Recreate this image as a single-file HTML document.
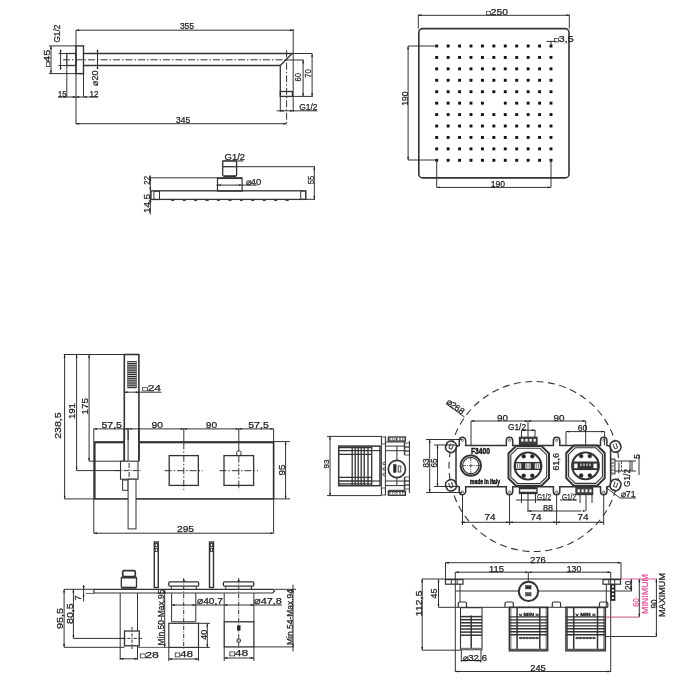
<!DOCTYPE html>
<html><head><meta charset="utf-8"><style>
html,body{margin:0;padding:0;background:#fff;width:700px;height:700px;overflow:hidden}
svg{display:block;will-change:transform}
text{font-family:"Liberation Sans",sans-serif;fill:#222;stroke:#222;stroke-width:0.25}
</style></head><body>
<svg width="700" height="700" viewBox="0 0 700 700">
<g stroke="#333" stroke-width="1" fill="none">
<line x1="76" y1="30.2" x2="293.2" y2="30.2"/>
<line x1="76" y1="30.2" x2="76" y2="124.3"/>
<line x1="293.2" y1="29" x2="293.2" y2="112"/>
<rect x="76" y="45.9" width="7.5" height="27.7" stroke-width="1.4"/>
<rect x="66.8" y="53.5" width="9.2" height="12" stroke-width="1.3"/>
<line x1="83.5" y1="53.5" x2="292.5" y2="53.5" stroke-width="1.3"/>
<line x1="292.5" y1="53.5" x2="312.1" y2="53.5"/>
<line x1="83.5" y1="65.5" x2="280.3" y2="65.5" stroke-width="1.3"/>
<line x1="280.3" y1="65.5" x2="292.2" y2="53.5" stroke-width="1.3"/>
<line x1="280.3" y1="65.5" x2="280.3" y2="96.4" stroke-width="1.3"/>
<line x1="280.3" y1="96.4" x2="280.3" y2="112"/>
<rect x="280.3" y="91.5" width="12.1" height="4.9" stroke-width="1.3"/>
<line x1="63" y1="59.8" x2="286.6" y2="59.8" stroke-dasharray="7 2 1.5 2"/>
<line x1="286.6" y1="60" x2="303.8" y2="60"/>
<line x1="286.6" y1="50.3" x2="286.6" y2="125.6" stroke-dasharray="7 2 1.5 2"/>
<line x1="51" y1="45.9" x2="51" y2="73.6"/>
<line x1="49" y1="45.9" x2="76" y2="45.9"/>
<line x1="49" y1="73.6" x2="83.5" y2="73.6"/>
<line x1="60.6" y1="49.7" x2="60.6" y2="69.7"/>
<line x1="58.5" y1="53.5" x2="66.8" y2="53.5"/>
<line x1="58.5" y1="65.5" x2="66.8" y2="65.5"/>
<line x1="97.5" y1="49.7" x2="97.5" y2="69"/>
<line x1="66.8" y1="65.5" x2="66.8" y2="97"/>
<line x1="83.5" y1="73.6" x2="83.5" y2="97"/>
<line x1="58" y1="97" x2="98" y2="97"/>
<line x1="303.1" y1="60" x2="303.1" y2="96.4"/>
<line x1="312.1" y1="53.5" x2="312.1" y2="96.4"/>
<line x1="293.2" y1="96.4" x2="312.8" y2="96.4"/>
<line x1="276.7" y1="110.8" x2="317.3" y2="110.8"/>
<line x1="76" y1="123.7" x2="286.6" y2="123.7"/>
<text font-size="9.2" text-anchor="middle" textLength="14.2" lengthAdjust="spacingAndGlyphs" x="187" y="28.91">355</text>
<text font-size="9.2" text-anchor="middle" textLength="14" lengthAdjust="spacingAndGlyphs" x="183.1" y="122.91">345</text>
<text font-size="9.2" text-anchor="middle" textLength="17" lengthAdjust="spacingAndGlyphs" transform="translate(47 58.1) rotate(-90)" x="0" y="3.31"><tspan style="font-size:0.7em">□</tspan>45</text>
<text font-size="9.2" text-anchor="middle" textLength="18" lengthAdjust="spacingAndGlyphs" transform="translate(56.5 33.6) rotate(-90)" x="0" y="3.31">G1/2</text>
<text font-size="9.2" text-anchor="middle" textLength="15" lengthAdjust="spacingAndGlyphs" transform="translate(95 78) rotate(-90)" x="0" y="3.31">⌀20</text>
<text font-size="9.2" text-anchor="middle" textLength="8.4" lengthAdjust="spacingAndGlyphs" x="62.2" y="96.91">15</text>
<text font-size="9.2" text-anchor="middle" textLength="9" lengthAdjust="spacingAndGlyphs" x="94" y="96.91">12</text>
<text font-size="9.2" text-anchor="middle" textLength="8.5" lengthAdjust="spacingAndGlyphs" transform="translate(297.3 77.3) rotate(-90)" x="0" y="3.31">60</text>
<text font-size="9.2" text-anchor="middle" textLength="8.5" lengthAdjust="spacingAndGlyphs" transform="translate(307.6 73.5) rotate(-90)" x="0" y="3.31">70</text>
<text font-size="9.2" text-anchor="middle" textLength="18.3" lengthAdjust="spacingAndGlyphs" x="308.3" y="110.11">G1/2</text>
<line x1="150.3" y1="175.2" x2="150.3" y2="214.4"/>
<line x1="150.3" y1="177.8" x2="217.8" y2="177.8"/>
<rect x="217.5" y="177.9" width="24.6" height="13.2" stroke-width="1.2"/>
<line x1="217.5" y1="178.3" x2="242.1" y2="178.3" stroke-width="1.5"/>
<line x1="216.4" y1="185.1" x2="256.7" y2="185.1"/>
<rect x="151" y="190.8" width="154.7" height="8.6" stroke-width="1.3"/>
<rect x="153.9" y="191.3" width="5.6" height="8.3"/>
<rect x="300.7" y="191" width="5" height="8.3"/>
<rect x="222.7" y="160.9" width="13.9" height="15.3" stroke-width="1.3" rx="1.5"/>
<line x1="222.7" y1="166.7" x2="236.6" y2="166.7" stroke-width="1.3"/>
<line x1="223.5" y1="176.3" x2="236" y2="176.3" stroke-width="1.8"/>
<line x1="222" y1="161" x2="243" y2="161"/>
<line x1="236.4" y1="166.7" x2="315" y2="166.7"/>
<line x1="305.7" y1="199.3" x2="315" y2="199.3"/>
<line x1="314.3" y1="166.4" x2="314.3" y2="200"/>
<rect x="171.60000000000002" y="199.6" width="2.4" height="1.2" stroke-width="0.5" fill="#333"/>
<rect x="183.03000000000003" y="199.6" width="2.4" height="1.2" stroke-width="0.5" fill="#333"/>
<rect x="194.46000000000004" y="199.6" width="2.4" height="1.2" stroke-width="0.5" fill="#333"/>
<rect x="205.89000000000001" y="199.6" width="2.4" height="1.2" stroke-width="0.5" fill="#333"/>
<rect x="217.32000000000002" y="199.6" width="2.4" height="1.2" stroke-width="0.5" fill="#333"/>
<rect x="228.75000000000003" y="199.6" width="2.4" height="1.2" stroke-width="0.5" fill="#333"/>
<rect x="240.18" y="199.6" width="2.4" height="1.2" stroke-width="0.5" fill="#333"/>
<rect x="251.61" y="199.6" width="2.4" height="1.2" stroke-width="0.5" fill="#333"/>
<rect x="263.04" y="199.6" width="2.4" height="1.2" stroke-width="0.5" fill="#333"/>
<rect x="274.47" y="199.6" width="2.4" height="1.2" stroke-width="0.5" fill="#333"/>
<rect x="285.90000000000003" y="199.6" width="2.4" height="1.2" stroke-width="0.5" fill="#333"/>
<text font-size="9.2" text-anchor="middle" textLength="20.5" lengthAdjust="spacingAndGlyphs" x="234.8" y="160.41">G1/2</text>
<text font-size="9.2" text-anchor="middle" textLength="15.7" lengthAdjust="spacingAndGlyphs" x="253.5" y="185.11">⌀40</text>
<text font-size="9.2" text-anchor="middle" textLength="8.7" lengthAdjust="spacingAndGlyphs" transform="translate(310.7 180) rotate(-90)" x="0" y="3.31">55</text>
<text font-size="9.2" text-anchor="middle" textLength="8.7" lengthAdjust="spacingAndGlyphs" transform="translate(146.4 180.3) rotate(-90)" x="0" y="3.31">22</text>
<text font-size="9.2" text-anchor="middle" textLength="19" lengthAdjust="spacingAndGlyphs" transform="translate(146.4 203.5) rotate(-90)" x="0" y="3.31">14,5</text>
<rect x="418.8" y="28.6" width="150.2" height="149.3" stroke-width="1.6" rx="4"/>
<line x1="418.3" y1="14.3" x2="418.3" y2="28.6"/>
<line x1="569.3" y1="14.3" x2="569.3" y2="28.6"/>
<line x1="418.3" y1="15.3" x2="569.3" y2="15.3"/>
<rect x="435.25" y="44.55" width="2.9" height="2.9" fill="#111" stroke="none"/>
<rect x="435.25" y="55.98" width="2.9" height="2.9" fill="#111" stroke="none"/>
<rect x="435.25" y="67.41" width="2.9" height="2.9" fill="#111" stroke="none"/>
<rect x="435.25" y="78.84" width="2.9" height="2.9" fill="#111" stroke="none"/>
<rect x="435.25" y="90.27" width="2.9" height="2.9" fill="#111" stroke="none"/>
<rect x="435.25" y="101.70" width="2.9" height="2.9" fill="#111" stroke="none"/>
<rect x="435.25" y="113.13" width="2.9" height="2.9" fill="#111" stroke="none"/>
<rect x="435.25" y="124.56" width="2.9" height="2.9" fill="#111" stroke="none"/>
<rect x="435.25" y="135.99" width="2.9" height="2.9" fill="#111" stroke="none"/>
<rect x="435.25" y="147.42" width="2.9" height="2.9" fill="#111" stroke="none"/>
<rect x="435.25" y="158.85" width="2.9" height="2.9" fill="#111" stroke="none"/>
<rect x="446.68" y="44.55" width="2.9" height="2.9" fill="#111" stroke="none"/>
<rect x="446.68" y="55.98" width="2.9" height="2.9" fill="#111" stroke="none"/>
<rect x="446.68" y="67.41" width="2.9" height="2.9" fill="#111" stroke="none"/>
<rect x="446.68" y="78.84" width="2.9" height="2.9" fill="#111" stroke="none"/>
<rect x="446.68" y="90.27" width="2.9" height="2.9" fill="#111" stroke="none"/>
<rect x="446.68" y="101.70" width="2.9" height="2.9" fill="#111" stroke="none"/>
<rect x="446.68" y="113.13" width="2.9" height="2.9" fill="#111" stroke="none"/>
<rect x="446.68" y="124.56" width="2.9" height="2.9" fill="#111" stroke="none"/>
<rect x="446.68" y="135.99" width="2.9" height="2.9" fill="#111" stroke="none"/>
<rect x="446.68" y="147.42" width="2.9" height="2.9" fill="#111" stroke="none"/>
<rect x="446.68" y="158.85" width="2.9" height="2.9" fill="#111" stroke="none"/>
<rect x="458.11" y="44.55" width="2.9" height="2.9" fill="#111" stroke="none"/>
<rect x="458.11" y="55.98" width="2.9" height="2.9" fill="#111" stroke="none"/>
<rect x="458.11" y="67.41" width="2.9" height="2.9" fill="#111" stroke="none"/>
<rect x="458.11" y="78.84" width="2.9" height="2.9" fill="#111" stroke="none"/>
<rect x="458.11" y="90.27" width="2.9" height="2.9" fill="#111" stroke="none"/>
<rect x="458.11" y="101.70" width="2.9" height="2.9" fill="#111" stroke="none"/>
<rect x="458.11" y="113.13" width="2.9" height="2.9" fill="#111" stroke="none"/>
<rect x="458.11" y="124.56" width="2.9" height="2.9" fill="#111" stroke="none"/>
<rect x="458.11" y="135.99" width="2.9" height="2.9" fill="#111" stroke="none"/>
<rect x="458.11" y="147.42" width="2.9" height="2.9" fill="#111" stroke="none"/>
<rect x="458.11" y="158.85" width="2.9" height="2.9" fill="#111" stroke="none"/>
<rect x="469.54" y="44.55" width="2.9" height="2.9" fill="#111" stroke="none"/>
<rect x="469.54" y="55.98" width="2.9" height="2.9" fill="#111" stroke="none"/>
<rect x="469.54" y="67.41" width="2.9" height="2.9" fill="#111" stroke="none"/>
<rect x="469.54" y="78.84" width="2.9" height="2.9" fill="#111" stroke="none"/>
<rect x="469.54" y="90.27" width="2.9" height="2.9" fill="#111" stroke="none"/>
<rect x="469.54" y="101.70" width="2.9" height="2.9" fill="#111" stroke="none"/>
<rect x="469.54" y="113.13" width="2.9" height="2.9" fill="#111" stroke="none"/>
<rect x="469.54" y="124.56" width="2.9" height="2.9" fill="#111" stroke="none"/>
<rect x="469.54" y="135.99" width="2.9" height="2.9" fill="#111" stroke="none"/>
<rect x="469.54" y="147.42" width="2.9" height="2.9" fill="#111" stroke="none"/>
<rect x="469.54" y="158.85" width="2.9" height="2.9" fill="#111" stroke="none"/>
<rect x="480.97" y="44.55" width="2.9" height="2.9" fill="#111" stroke="none"/>
<rect x="480.97" y="55.98" width="2.9" height="2.9" fill="#111" stroke="none"/>
<rect x="480.97" y="67.41" width="2.9" height="2.9" fill="#111" stroke="none"/>
<rect x="480.97" y="78.84" width="2.9" height="2.9" fill="#111" stroke="none"/>
<rect x="480.97" y="90.27" width="2.9" height="2.9" fill="#111" stroke="none"/>
<rect x="480.97" y="101.70" width="2.9" height="2.9" fill="#111" stroke="none"/>
<rect x="480.97" y="113.13" width="2.9" height="2.9" fill="#111" stroke="none"/>
<rect x="480.97" y="124.56" width="2.9" height="2.9" fill="#111" stroke="none"/>
<rect x="480.97" y="135.99" width="2.9" height="2.9" fill="#111" stroke="none"/>
<rect x="480.97" y="147.42" width="2.9" height="2.9" fill="#111" stroke="none"/>
<rect x="480.97" y="158.85" width="2.9" height="2.9" fill="#111" stroke="none"/>
<rect x="492.40" y="44.55" width="2.9" height="2.9" fill="#111" stroke="none"/>
<rect x="492.40" y="55.98" width="2.9" height="2.9" fill="#111" stroke="none"/>
<rect x="492.40" y="67.41" width="2.9" height="2.9" fill="#111" stroke="none"/>
<rect x="492.40" y="78.84" width="2.9" height="2.9" fill="#111" stroke="none"/>
<rect x="492.40" y="90.27" width="2.9" height="2.9" fill="#111" stroke="none"/>
<rect x="492.40" y="113.13" width="2.9" height="2.9" fill="#111" stroke="none"/>
<rect x="492.40" y="124.56" width="2.9" height="2.9" fill="#111" stroke="none"/>
<rect x="492.40" y="135.99" width="2.9" height="2.9" fill="#111" stroke="none"/>
<rect x="492.40" y="147.42" width="2.9" height="2.9" fill="#111" stroke="none"/>
<rect x="492.40" y="158.85" width="2.9" height="2.9" fill="#111" stroke="none"/>
<rect x="503.83" y="44.55" width="2.9" height="2.9" fill="#111" stroke="none"/>
<rect x="503.83" y="55.98" width="2.9" height="2.9" fill="#111" stroke="none"/>
<rect x="503.83" y="67.41" width="2.9" height="2.9" fill="#111" stroke="none"/>
<rect x="503.83" y="78.84" width="2.9" height="2.9" fill="#111" stroke="none"/>
<rect x="503.83" y="90.27" width="2.9" height="2.9" fill="#111" stroke="none"/>
<rect x="503.83" y="101.70" width="2.9" height="2.9" fill="#111" stroke="none"/>
<rect x="503.83" y="113.13" width="2.9" height="2.9" fill="#111" stroke="none"/>
<rect x="503.83" y="124.56" width="2.9" height="2.9" fill="#111" stroke="none"/>
<rect x="503.83" y="135.99" width="2.9" height="2.9" fill="#111" stroke="none"/>
<rect x="503.83" y="147.42" width="2.9" height="2.9" fill="#111" stroke="none"/>
<rect x="503.83" y="158.85" width="2.9" height="2.9" fill="#111" stroke="none"/>
<rect x="515.26" y="44.55" width="2.9" height="2.9" fill="#111" stroke="none"/>
<rect x="515.26" y="55.98" width="2.9" height="2.9" fill="#111" stroke="none"/>
<rect x="515.26" y="67.41" width="2.9" height="2.9" fill="#111" stroke="none"/>
<rect x="515.26" y="78.84" width="2.9" height="2.9" fill="#111" stroke="none"/>
<rect x="515.26" y="90.27" width="2.9" height="2.9" fill="#111" stroke="none"/>
<rect x="515.26" y="101.70" width="2.9" height="2.9" fill="#111" stroke="none"/>
<rect x="515.26" y="113.13" width="2.9" height="2.9" fill="#111" stroke="none"/>
<rect x="515.26" y="124.56" width="2.9" height="2.9" fill="#111" stroke="none"/>
<rect x="515.26" y="135.99" width="2.9" height="2.9" fill="#111" stroke="none"/>
<rect x="515.26" y="147.42" width="2.9" height="2.9" fill="#111" stroke="none"/>
<rect x="515.26" y="158.85" width="2.9" height="2.9" fill="#111" stroke="none"/>
<rect x="526.69" y="44.55" width="2.9" height="2.9" fill="#111" stroke="none"/>
<rect x="526.69" y="55.98" width="2.9" height="2.9" fill="#111" stroke="none"/>
<rect x="526.69" y="67.41" width="2.9" height="2.9" fill="#111" stroke="none"/>
<rect x="526.69" y="78.84" width="2.9" height="2.9" fill="#111" stroke="none"/>
<rect x="526.69" y="90.27" width="2.9" height="2.9" fill="#111" stroke="none"/>
<rect x="526.69" y="101.70" width="2.9" height="2.9" fill="#111" stroke="none"/>
<rect x="526.69" y="113.13" width="2.9" height="2.9" fill="#111" stroke="none"/>
<rect x="526.69" y="124.56" width="2.9" height="2.9" fill="#111" stroke="none"/>
<rect x="526.69" y="135.99" width="2.9" height="2.9" fill="#111" stroke="none"/>
<rect x="526.69" y="147.42" width="2.9" height="2.9" fill="#111" stroke="none"/>
<rect x="526.69" y="158.85" width="2.9" height="2.9" fill="#111" stroke="none"/>
<rect x="538.12" y="44.55" width="2.9" height="2.9" fill="#111" stroke="none"/>
<rect x="538.12" y="55.98" width="2.9" height="2.9" fill="#111" stroke="none"/>
<rect x="538.12" y="67.41" width="2.9" height="2.9" fill="#111" stroke="none"/>
<rect x="538.12" y="78.84" width="2.9" height="2.9" fill="#111" stroke="none"/>
<rect x="538.12" y="90.27" width="2.9" height="2.9" fill="#111" stroke="none"/>
<rect x="538.12" y="101.70" width="2.9" height="2.9" fill="#111" stroke="none"/>
<rect x="538.12" y="113.13" width="2.9" height="2.9" fill="#111" stroke="none"/>
<rect x="538.12" y="124.56" width="2.9" height="2.9" fill="#111" stroke="none"/>
<rect x="538.12" y="135.99" width="2.9" height="2.9" fill="#111" stroke="none"/>
<rect x="538.12" y="147.42" width="2.9" height="2.9" fill="#111" stroke="none"/>
<rect x="538.12" y="158.85" width="2.9" height="2.9" fill="#111" stroke="none"/>
<rect x="549.55" y="44.55" width="2.9" height="2.9" fill="#111" stroke="none"/>
<rect x="549.55" y="55.98" width="2.9" height="2.9" fill="#111" stroke="none"/>
<rect x="549.55" y="67.41" width="2.9" height="2.9" fill="#111" stroke="none"/>
<rect x="549.55" y="78.84" width="2.9" height="2.9" fill="#111" stroke="none"/>
<rect x="549.55" y="90.27" width="2.9" height="2.9" fill="#111" stroke="none"/>
<rect x="549.55" y="101.70" width="2.9" height="2.9" fill="#111" stroke="none"/>
<rect x="549.55" y="113.13" width="2.9" height="2.9" fill="#111" stroke="none"/>
<rect x="549.55" y="124.56" width="2.9" height="2.9" fill="#111" stroke="none"/>
<rect x="549.55" y="135.99" width="2.9" height="2.9" fill="#111" stroke="none"/>
<rect x="549.55" y="147.42" width="2.9" height="2.9" fill="#111" stroke="none"/>
<rect x="549.55" y="158.85" width="2.9" height="2.9" fill="#111" stroke="none"/>
<line x1="408.1" y1="46" x2="408.1" y2="160"/>
<line x1="408.1" y1="46" x2="436.7" y2="46"/>
<line x1="408.1" y1="160" x2="436.7" y2="160"/>
<line x1="436.7" y1="160" x2="436.7" y2="187.4"/>
<line x1="551" y1="160" x2="551" y2="187.4"/>
<line x1="436.7" y1="187.4" x2="551" y2="187.4"/>
<line x1="546.4" y1="41.4" x2="556" y2="41.4"/>
<line x1="551" y1="41.4" x2="551" y2="46"/>
<text font-size="9.6" text-anchor="middle" textLength="21.5" lengthAdjust="spacingAndGlyphs" x="497.2" y="15.26"><tspan style="font-size:0.7em">□</tspan>250</text>
<text font-size="9.6" text-anchor="middle" textLength="14.3" lengthAdjust="spacingAndGlyphs" x="497.9" y="187.36">190</text>
<text font-size="9.6" text-anchor="middle" textLength="14.3" lengthAdjust="spacingAndGlyphs" transform="translate(404.3 98.6) rotate(-90)" x="0" y="3.46">190</text>
<text font-size="9.6" text-anchor="middle" textLength="19.3" lengthAdjust="spacingAndGlyphs" x="564" y="41.66"><tspan style="font-size:0.7em">□</tspan>3,5</text>
<line x1="63.7" y1="354.5" x2="139.2" y2="354.5"/>
<line x1="64.6" y1="353.9" x2="64.6" y2="498.9"/>
<line x1="76.6" y1="353.9" x2="76.6" y2="470.6"/>
<line x1="89.1" y1="353.9" x2="89.1" y2="461.2"/>
<line x1="64.6" y1="498.9" x2="94.8" y2="498.9"/>
<line x1="76.6" y1="470.6" x2="120.5" y2="470.6"/>
<line x1="89.1" y1="461.2" x2="124.3" y2="461.2"/>
<line x1="124.3" y1="353.9" x2="124.3" y2="461.2" stroke-width="1.6"/>
<line x1="138.9" y1="353.9" x2="138.9" y2="461.2" stroke-width="1.6"/>
<line x1="124.3" y1="354.5" x2="138.9" y2="354.5" stroke-width="1.6"/>
<rect x="127.7" y="361.3" width="8.6" height="26.6" stroke-width="0.6" fill="#222"/>
<line x1="127.7" y1="362.60" x2="136.3" y2="362.60" stroke="#fff" stroke-width="0.8"/>
<line x1="127.7" y1="364.75" x2="136.3" y2="364.75" stroke="#fff" stroke-width="0.8"/>
<line x1="127.7" y1="366.90" x2="136.3" y2="366.90" stroke="#fff" stroke-width="0.8"/>
<line x1="127.7" y1="369.05" x2="136.3" y2="369.05" stroke="#fff" stroke-width="0.8"/>
<line x1="127.7" y1="371.20" x2="136.3" y2="371.20" stroke="#fff" stroke-width="0.8"/>
<line x1="127.7" y1="373.35" x2="136.3" y2="373.35" stroke="#fff" stroke-width="0.8"/>
<line x1="127.7" y1="375.50" x2="136.3" y2="375.50" stroke="#fff" stroke-width="0.8"/>
<line x1="127.7" y1="377.65" x2="136.3" y2="377.65" stroke="#fff" stroke-width="0.8"/>
<line x1="127.7" y1="379.80" x2="136.3" y2="379.80" stroke="#fff" stroke-width="0.8"/>
<line x1="127.7" y1="381.95" x2="136.3" y2="381.95" stroke="#fff" stroke-width="0.8"/>
<line x1="127.7" y1="384.10" x2="136.3" y2="384.10" stroke="#fff" stroke-width="0.8"/>
<line x1="127.7" y1="386.25" x2="136.3" y2="386.25" stroke="#fff" stroke-width="0.8"/>
<line x1="124.3" y1="392.2" x2="161.5" y2="392.2"/>
<line x1="128.1" y1="428.6" x2="128.1" y2="461.2"/>
<rect x="94.8" y="442.3" width="178.8" height="56.6" stroke-width="1.6"/>
<line x1="94.8" y1="442.3" x2="273.6" y2="442.3" stroke-width="2"/>
<line x1="93.8" y1="428.6" x2="93.8" y2="533.2"/>
<line x1="93.8" y1="428.9" x2="273.6" y2="428.9"/>
<line x1="273.6" y1="428.9" x2="273.6" y2="533.2"/>
<line x1="93.8" y1="533.2" x2="273.6" y2="533.2"/>
<rect x="124.8" y="440" width="13.6" height="21" fill="#fff" stroke="none"/>
<line x1="124.3" y1="428" x2="124.3" y2="461.2" stroke-width="1.6"/>
<line x1="138.9" y1="428" x2="138.9" y2="461.2" stroke-width="1.6"/>
<line x1="128.1" y1="428.6" x2="128.1" y2="461.2"/>
<rect x="120.5" y="461.2" width="17.5" height="18" stroke-width="1.1" fill="#fff"/>
<line x1="115" y1="470.6" x2="141" y2="470.6" stroke-dasharray="5 1.5 1 1.5"/>
<line x1="129.1" y1="463" x2="129.1" y2="479" stroke-dasharray="5 1.5 1 1.5"/>
<rect x="122.6" y="480" width="5.5" height="10.3"/>
<rect x="128.1" y="479.2" width="7.9" height="49.7" fill="#fff"/>
<rect x="169.2" y="455.6" width="29.1" height="29.8" stroke-width="1.3"/>
<rect x="224" y="455.6" width="29.6" height="29.8" stroke-width="1.3"/>
<rect x="236.6" y="451" width="4.4" height="4.6" rx="1.5"/>
<line x1="183.8" y1="428.7" x2="183.8" y2="442.3"/>
<line x1="183.8" y1="442.3" x2="183.8" y2="490" stroke-dasharray="7 2 1.5 2"/>
<line x1="238.8" y1="428.7" x2="238.8" y2="451"/>
<line x1="238.8" y1="455.6" x2="238.8" y2="490" stroke-dasharray="7 2 1.5 2"/>
<line x1="164.6" y1="470.7" x2="202.9" y2="470.7" stroke-dasharray="7 2 1.5 2"/>
<line x1="219.4" y1="470.7" x2="258" y2="470.7" stroke-dasharray="7 2 1.5 2"/>
<line x1="273.6" y1="441.6" x2="290" y2="441.6"/>
<line x1="273.6" y1="498.9" x2="290" y2="498.9"/>
<line x1="285.6" y1="441.6" x2="285.6" y2="498.9"/>
<text font-size="9.8" text-anchor="middle" textLength="18.5" lengthAdjust="spacingAndGlyphs" x="151.8" y="390.83"><tspan style="font-size:0.7em">□</tspan>24</text>
<text font-size="9.8" text-anchor="middle" textLength="20.5" lengthAdjust="spacingAndGlyphs" x="111.7" y="427.93">57,5</text>
<text font-size="9.8" text-anchor="middle" textLength="11.4" lengthAdjust="spacingAndGlyphs" x="157.2" y="427.73">90</text>
<text font-size="9.8" text-anchor="middle" textLength="11.4" lengthAdjust="spacingAndGlyphs" x="211.5" y="427.73">90</text>
<text font-size="9.8" text-anchor="middle" textLength="20.5" lengthAdjust="spacingAndGlyphs" x="258.5" y="427.93">57,5</text>
<text font-size="9.8" text-anchor="middle" textLength="17" lengthAdjust="spacingAndGlyphs" x="185.5" y="531.53">295</text>
<text font-size="9.8" text-anchor="middle" textLength="11" lengthAdjust="spacingAndGlyphs" transform="translate(281.2 470) rotate(-90)" x="0" y="3.53">95</text>
<text font-size="9.8" text-anchor="middle" textLength="26.5" lengthAdjust="spacingAndGlyphs" transform="translate(57.5 425.6) rotate(-90)" x="0" y="3.53">238,5</text>
<text font-size="9.8" text-anchor="middle" textLength="16" lengthAdjust="spacingAndGlyphs" transform="translate(71.2 411.1) rotate(-90)" x="0" y="3.53">191</text>
<text font-size="9.8" text-anchor="middle" textLength="16.5" lengthAdjust="spacingAndGlyphs" transform="translate(84.2 406.2) rotate(-90)" x="0" y="3.53">175</text>
<line x1="330" y1="436.4" x2="330" y2="495.9"/>
<line x1="327" y1="436.4" x2="381.4" y2="436.4"/>
<line x1="327" y1="495.6" x2="381.4" y2="495.6"/>
<rect x="338.7" y="446.1" width="41.3" height="39.6" stroke-width="1.5"/>
<line x1="338.7" y1="447.6" x2="371.7" y2="447.6" stroke-width="1.3"/>
<line x1="338.7" y1="450.6" x2="371.7" y2="450.6" stroke-width="1.3"/>
<line x1="338.7" y1="454.3" x2="371.7" y2="454.3" stroke-width="1.3"/>
<line x1="338.7" y1="477.3" x2="371.7" y2="477.3" stroke-width="1.3"/>
<line x1="338.7" y1="481" x2="371.7" y2="481" stroke-width="1.3"/>
<line x1="338.7" y1="483.9" x2="371.7" y2="483.9" stroke-width="1.3"/>
<line x1="371.7" y1="450.6" x2="380" y2="450.6" stroke-width="1.1"/>
<line x1="371.7" y1="481" x2="380" y2="481" stroke-width="1.1"/>
<line x1="352.2" y1="446.1" x2="352.2" y2="485.7" stroke-width="1.3"/>
<line x1="355.2" y1="446.1" x2="355.2" y2="485.7" stroke-width="1.3"/>
<line x1="358.2" y1="446.1" x2="358.2" y2="485.7" stroke-width="1.3"/>
<line x1="361.2" y1="446.1" x2="361.2" y2="485.7" stroke-width="1.3"/>
<line x1="364.2" y1="446.1" x2="364.2" y2="485.7" stroke-width="1.3"/>
<line x1="368" y1="446.1" x2="368" y2="485.7" stroke-width="1.3"/>
<line x1="371.7" y1="446.1" x2="371.7" y2="485.7" stroke-width="1.3"/>
<line x1="381.4" y1="436.4" x2="381.4" y2="495.3"/>
<line x1="385.4" y1="436.4" x2="385.4" y2="495.3"/>
<rect x="381.4" y="437" width="4" height="7" stroke-width="0.8"/>
<rect x="381.4" y="488" width="4" height="7" stroke-width="0.8"/>
<rect x="388.3" y="437" width="17.1" height="4" stroke-width="1.3"/>
<rect x="389.3" y="438" width="1.6" height="2" stroke-width="0.4" fill="#fff"/>
<rect x="392.6" y="438" width="1.6" height="2" stroke-width="0.4" fill="#fff"/>
<rect x="395.90000000000003" y="438" width="1.6" height="2" stroke-width="0.4" fill="#fff"/>
<rect x="399.2" y="438" width="1.6" height="2" stroke-width="0.4" fill="#fff"/>
<rect x="402.5" y="438" width="1.6" height="2" stroke-width="0.4" fill="#fff"/>
<rect x="388.3" y="491.3" width="17.1" height="4" stroke-width="1.3"/>
<rect x="389.3" y="492.3" width="1.6" height="2" stroke-width="0.4" fill="#fff"/>
<rect x="392.6" y="492.3" width="1.6" height="2" stroke-width="0.4" fill="#fff"/>
<rect x="395.90000000000003" y="492.3" width="1.6" height="2" stroke-width="0.4" fill="#fff"/>
<rect x="399.2" y="492.3" width="1.6" height="2" stroke-width="0.4" fill="#fff"/>
<rect x="402.5" y="492.3" width="1.6" height="2" stroke-width="0.4" fill="#fff"/>
<line x1="385.4" y1="442" x2="405.4" y2="442"/>
<line x1="388.3" y1="490.3" x2="405.4" y2="490.3"/>
<line x1="385.4" y1="446.1" x2="404.3" y2="446.1"/>
<line x1="385.4" y1="450.7" x2="404.3" y2="450.7"/>
<line x1="385.4" y1="481" x2="404.3" y2="481"/>
<line x1="385.4" y1="485.6" x2="404.3" y2="485.6"/>
<line x1="396.9" y1="446.1" x2="396.9" y2="460.4"/>
<line x1="396.9" y1="477.6" x2="396.9" y2="485.6"/>
<line x1="404.3" y1="442" x2="404.3" y2="455"/>
<line x1="404.3" y1="477" x2="404.3" y2="490.3"/>
<line x1="409.4" y1="441" x2="409.4" y2="493"/>
<rect x="404.9" y="443" width="4.5" height="4" stroke-width="0.8"/>
<rect x="404.9" y="447" width="4.5" height="4" stroke-width="0.8"/>
<rect x="404.9" y="451" width="4.5" height="4" stroke-width="0.8"/>
<rect x="404.9" y="477" width="4.5" height="4" stroke-width="0.8"/>
<rect x="404.9" y="481" width="4.5" height="4" stroke-width="0.8"/>
<rect x="404.9" y="485" width="4.5" height="4" stroke-width="0.8"/>
<circle cx="396.9" cy="469" r="8.6" stroke-width="1.7"/>
<rect x="393.5" y="464.5" width="2.6" height="8" stroke-width="0.5" fill="#222"/>
<rect x="398.2" y="466" width="2.6" height="6" stroke-width="0.9"/>
<circle cx="384.2" cy="463.5" r="1.3" stroke-width="0.9"/>
<circle cx="384.2" cy="469" r="1.3" stroke-width="0.9"/>
<circle cx="384.2" cy="474.5" r="1.3" stroke-width="0.9"/>
<text font-size="8" text-anchor="middle" textLength="9" lengthAdjust="spacingAndGlyphs" transform="translate(326 463.9) rotate(-90)" x="0" y="2.88">93</text>
<circle cx="534" cy="466.5" r="85" stroke-width="1.1" stroke-dasharray="7 4.5"/>
<path d="M456 449 Q456 445.5 459.3 445.5 L459.3 445.5 L459.3 440.5 A3.2 3.2 0 0 1 465.7 440.5 L465.7 445.5 L506.3 445.5 L506.3 440.5 A3.2 3.2 0 0 1 512.7 440.5 L512.7 445.5 L553.4 445.5 L553.4 440.5 A3.2 3.2 0 0 1 559.8000000000001 440.5 L559.8000000000001 445.5 L600.5 445.5 L600.5 440.5 A3.2 3.2 0 0 1 606.9000000000001 440.5 L606.9000000000001 445.5 L607.5 445.5 Q610.6 445.5 610.6 449 L610.6 483.5 Q610.6 486.8 607.5 486.8 L606.9000000000001 486.8 L606.9000000000001 491.5 A3.2 3.2 0 0 1 600.5 491.5 L600.5 486.8 L559.8000000000001 486.8 L559.8000000000001 491.5 A3.2 3.2 0 0 1 553.4 491.5 L553.4 486.8 L512.7 486.8 L512.7 491.5 A3.2 3.2 0 0 1 506.3 491.5 L506.3 486.8 L465.7 486.8 L465.7 491.5 A3.2 3.2 0 0 1 459.3 491.5 L459.3 486.8 L459.3 486.8 Q456 486.8 456 483.5 Z" stroke-width="1.5"/>
<circle cx="462.5" cy="440.3" r="1.1" stroke-width="0.7"/>
<circle cx="462.5" cy="491.8" r="1.1" stroke-width="0.7"/>
<circle cx="509.5" cy="440.3" r="1.1" stroke-width="0.7"/>
<circle cx="509.5" cy="491.8" r="1.1" stroke-width="0.7"/>
<circle cx="556.6" cy="440.3" r="1.1" stroke-width="0.7"/>
<circle cx="556.6" cy="491.8" r="1.1" stroke-width="0.7"/>
<circle cx="603.7" cy="440.3" r="1.1" stroke-width="0.7"/>
<circle cx="603.7" cy="491.8" r="1.1" stroke-width="0.7"/>
<g transform="rotate(20 451 446.8)">
<rect x="445.8" y="441.2" width="10.4" height="11.2" stroke-width="1.7" fill="#fff" rx="4.8"/>
<line x1="449.5" y1="443.8" x2="449.5" y2="448.8"/>
<line x1="452.5" y1="443.8" x2="452.5" y2="448.8"/>
<line x1="449.5" y1="448.8" x2="452.5" y2="448.8"/>
</g>
<g transform="rotate(-20 451 485.3)">
<rect x="445.8" y="479.7" width="10.4" height="11.2" stroke-width="1.7" fill="#fff" rx="4.8"/>
<line x1="449.5" y1="482.3" x2="449.5" y2="487.3"/>
<line x1="452.5" y1="482.3" x2="452.5" y2="487.3"/>
<line x1="449.5" y1="487.3" x2="452.5" y2="487.3"/>
</g>
<g transform="rotate(-20 615.5 446.5)">
<rect x="610.3" y="440.9" width="10.4" height="11.2" stroke-width="1.7" fill="#fff" rx="4.8"/>
<line x1="614.0" y1="443.5" x2="614.0" y2="448.5"/>
<line x1="617.0" y1="443.5" x2="617.0" y2="448.5"/>
<line x1="614.0" y1="448.5" x2="617.0" y2="448.5"/>
</g>
<g transform="rotate(20 615.5 485)">
<rect x="610.3" y="479.4" width="10.4" height="11.2" stroke-width="1.7" fill="#fff" rx="4.8"/>
<line x1="614.0" y1="482" x2="614.0" y2="487"/>
<line x1="617.0" y1="482" x2="617.0" y2="487"/>
<line x1="614.0" y1="487" x2="617.0" y2="487"/>
</g>
<circle cx="470.8" cy="465.6" r="10.2" stroke-width="1.9"/>
<circle cx="470.8" cy="465.6" r="8.2" stroke-width="1.2"/>
<line x1="462" y1="465.6" x2="480" y2="465.6" stroke-width="0.8" stroke-dasharray="4 1 1 1"/>
<line x1="470.8" y1="457" x2="470.8" y2="474.5" stroke-width="0.8" stroke-dasharray="4 1 1 1"/>
<text font-size="8.5" text-anchor="middle" textLength="19" lengthAdjust="spacingAndGlyphs" font-weight="bold" style="stroke:#111;stroke-width:0.45" x="480.5" y="454.06">F3400</text>
<text font-size="6.5" text-anchor="middle" textLength="30" lengthAdjust="spacingAndGlyphs" font-weight="bold" style="stroke:#111;stroke-width:0.45" x="485" y="484.14">made in Italy</text>
<path d="M516.0 446 L541.5 446 L549 453.5 L549 478.3 L541.5 485.8 L516.0 485.8 L508.5 478.3 L508.5 453.5 Z" stroke-width="2"/>
<path d="M517.4 448.3 L540.1 448.3 L546.7 454.90000000000003 L546.7 476.9 L540.1 483.5 L517.4 483.5 L510.8 476.9 L510.8 454.90000000000003 Z" stroke-width="1.1"/>
<circle cx="528" cy="466" r="13.4" stroke-width="2"/>
<rect x="515.5" y="462" width="25" height="8" fill="#333" stroke="none"/>
<rect x="515.4000000000001" y="462.7" width="6.6" height="6.6" stroke-width="1.5" fill="#fff"/>
<line x1="517.6" y1="464" x2="517.6" y2="468" stroke-width="0.7"/>
<line x1="519.8000000000001" y1="464" x2="519.8000000000001" y2="468" stroke-width="0.7"/>
<rect x="524.7" y="462.7" width="6.6" height="6.6" stroke-width="1.5" fill="#fff"/>
<line x1="526.9" y1="464" x2="526.9" y2="468" stroke-width="0.7"/>
<line x1="529.1" y1="464" x2="529.1" y2="468" stroke-width="0.7"/>
<rect x="534.0" y="462.7" width="6.6" height="6.6" stroke-width="1.5" fill="#fff"/>
<line x1="536.1999999999999" y1="464" x2="536.1999999999999" y2="468" stroke-width="0.7"/>
<line x1="538.4" y1="464" x2="538.4" y2="468" stroke-width="0.7"/>
<circle cx="523.7" cy="456.3" r="1.9" stroke-width="0.5" fill="#222"/>
<circle cx="532.3" cy="456.3" r="1.9" stroke-width="0.5" fill="#222"/>
<circle cx="523.7" cy="475.7" r="1.9" stroke-width="0.5" fill="#222"/>
<circle cx="532.3" cy="475.7" r="1.9" stroke-width="0.5" fill="#222"/>
<line x1="528" y1="453.5" x2="528" y2="459" stroke-width="1.2" stroke="#fff"/>
<line x1="528" y1="473" x2="528" y2="478.5" stroke-width="1.2" stroke="#fff"/>
<path d="M573.8 445.5 L597.2 445.5 L604.7 453.0 L604.7 478.2 L597.2 485.7 L573.8 485.7 L566.3 478.2 L566.3 453.0 Z" stroke-width="2"/>
<path d="M575.1999999999999 447.8 L595.8000000000001 447.8 L602.4000000000001 454.40000000000003 L602.4000000000001 476.79999999999995 L595.8000000000001 483.4 L575.1999999999999 483.4 L568.5999999999999 476.79999999999995 L568.5999999999999 454.40000000000003 Z" stroke-width="1.1"/>
<circle cx="585.5" cy="465.8" r="13.4" stroke-width="2"/>
<rect x="572.5" y="461.5" width="26" height="8.6" fill="#333" stroke="none"/>
<rect x="573.9" y="463.2" width="4" height="5.2" stroke-width="0.6" fill="#fff"/>
<rect x="593.1" y="463.2" width="4" height="5.2" stroke-width="0.6" fill="#fff"/>
<rect x="580.2" y="463.6" width="1.6" height="2.4" fill="#bbb" stroke="none"/>
<rect x="583.2" y="463.6" width="1.6" height="2.4" fill="#bbb" stroke="none"/>
<rect x="586.2" y="463.6" width="1.6" height="2.4" fill="#bbb" stroke="none"/>
<rect x="589.2" y="463.6" width="1.6" height="2.4" fill="#bbb" stroke="none"/>
<circle cx="581.2" cy="456.1" r="1.9" stroke-width="0.5" fill="#222"/>
<circle cx="589.8" cy="456.1" r="1.9" stroke-width="0.5" fill="#222"/>
<circle cx="581.2" cy="475.5" r="1.9" stroke-width="0.5" fill="#222"/>
<circle cx="589.8" cy="475.5" r="1.9" stroke-width="0.5" fill="#222"/>
<line x1="585.5" y1="453.3" x2="585.5" y2="458.8" stroke-width="1.2" stroke="#fff"/>
<line x1="585.5" y1="472.8" x2="585.5" y2="478.3" stroke-width="1.2" stroke="#fff"/>
<rect x="519.5" y="437.3" width="17.5" height="7" stroke-width="1.3" fill="#444"/>
<rect x="521.3" y="438.9" width="2.2" height="2.6" fill="#fff" stroke="none"/>
<rect x="525.4" y="438.9" width="2.2" height="2.6" fill="#fff" stroke="none"/>
<rect x="529.5" y="438.9" width="2.2" height="2.6" fill="#fff" stroke="none"/>
<rect x="533.6" y="438.9" width="2.2" height="2.6" fill="#fff" stroke="none"/>
<rect x="519.5" y="487" width="17.5" height="6.5" stroke-width="1.3"/>
<line x1="519.5" y1="488.2" x2="537" y2="488.2" stroke-width="2.2"/>
<line x1="519.5" y1="492.5" x2="537" y2="492.5" stroke-width="1.6"/>
<rect x="576" y="487" width="16.6" height="7.5" stroke-width="1.3" fill="#444"/>
<rect x="577.6" y="489.4" width="2.2" height="2.8" fill="#fff" stroke="none"/>
<rect x="581.5" y="489.4" width="2.2" height="2.8" fill="#fff" stroke="none"/>
<rect x="585.4" y="489.4" width="2.2" height="2.8" fill="#fff" stroke="none"/>
<rect x="589.3" y="489.4" width="2.2" height="2.8" fill="#fff" stroke="none"/>
<rect x="610.6" y="459" width="4.4" height="15" stroke-width="0.9"/>
<rect x="611.3" y="460.0" width="3" height="2.4" stroke-width="0.5" fill="#fff"/>
<rect x="611.3" y="463.5" width="3" height="2.4" stroke-width="0.5" fill="#fff"/>
<rect x="611.3" y="467.0" width="3" height="2.4" stroke-width="0.5" fill="#fff"/>
<rect x="611.3" y="470.5" width="3" height="2.4" stroke-width="0.5" fill="#fff"/>
<line x1="615" y1="461" x2="636" y2="461"/>
<line x1="615" y1="471" x2="636" y2="471"/>
<line x1="630" y1="461" x2="630" y2="471"/>
<line x1="632" y1="461" x2="632" y2="471"/>
<line x1="639" y1="455" x2="639" y2="475"/>
<line x1="621.5" y1="461" x2="621.5" y2="471" stroke-width="0.8" stroke-dasharray="3 1"/>
<line x1="471" y1="421" x2="585.7" y2="421"/>
<line x1="471" y1="421" x2="471" y2="445.5"/>
<line x1="528" y1="421" x2="528" y2="437"/>
<line x1="585.7" y1="421" x2="585.7" y2="445.5"/>
<line x1="521.5" y1="430.2" x2="535.5" y2="430.2"/>
<line x1="521.5" y1="430.2" x2="521.5" y2="437"/>
<line x1="535" y1="430.2" x2="535" y2="437"/>
<line x1="566" y1="431.6" x2="604.6" y2="431.6"/>
<line x1="566" y1="431.6" x2="566" y2="445.5"/>
<line x1="604.6" y1="431.6" x2="604.6" y2="445.5"/>
<line x1="429.7" y1="439.5" x2="429.7" y2="492.5"/>
<line x1="426" y1="439.5" x2="462" y2="439.5"/>
<line x1="426" y1="492.5" x2="462" y2="492.5"/>
<line x1="437.5" y1="445" x2="437.5" y2="486.5"/>
<line x1="434" y1="445" x2="456" y2="445"/>
<line x1="434" y1="486.5" x2="456" y2="486.5"/>
<line x1="462.5" y1="494" x2="462.5" y2="525"/>
<line x1="509.5" y1="494" x2="509.5" y2="525"/>
<line x1="556.6" y1="494" x2="556.6" y2="525"/>
<line x1="603.7" y1="494" x2="603.7" y2="525"/>
<line x1="461.4" y1="522.3" x2="603.7" y2="522.3"/>
<line x1="521.5" y1="493" x2="521.5" y2="503"/>
<line x1="528" y1="493" x2="528" y2="511"/>
<line x1="535.5" y1="493" x2="535.5" y2="503"/>
<line x1="580" y1="494" x2="580" y2="503"/>
<line x1="586" y1="494" x2="586" y2="511"/>
<line x1="592" y1="494" x2="592" y2="503"/>
<line x1="527" y1="511" x2="581.4" y2="511"/>
<line x1="516" y1="500" x2="551" y2="500"/>
<line x1="560" y1="500" x2="577" y2="500"/>
<line x1="606" y1="487.5" x2="620" y2="498"/>
<line x1="620" y1="498" x2="636" y2="498"/>
<text font-size="9.2" text-anchor="middle" textLength="11" lengthAdjust="spacingAndGlyphs" x="502.5" y="420.81">90</text>
<text font-size="9.2" text-anchor="middle" textLength="11" lengthAdjust="spacingAndGlyphs" x="559" y="420.81">90</text>
<text font-size="9.2" text-anchor="middle" textLength="18" lengthAdjust="spacingAndGlyphs" x="517" y="429.81">G1/2</text>
<text font-size="9.2" text-anchor="middle" textLength="9.5" lengthAdjust="spacingAndGlyphs" x="582.5" y="431.31">60</text>
<text font-size="8.6" text-anchor="middle" textLength="17.5" lengthAdjust="spacingAndGlyphs" transform="translate(556 461.7) rotate(-90)" x="0" y="3.10">61,6</text>
<text font-size="8.3" text-anchor="middle" textLength="9" lengthAdjust="spacingAndGlyphs" transform="translate(425.8 463) rotate(-90)" x="0" y="2.99">83</text>
<text font-size="8.3" text-anchor="middle" textLength="9" lengthAdjust="spacingAndGlyphs" transform="translate(433.8 463) rotate(-90)" x="0" y="2.99">65</text>
<text font-size="9.2" text-anchor="middle" textLength="18" lengthAdjust="spacingAndGlyphs" transform="translate(627 478) rotate(-90)" x="0" y="3.31">G1/2</text>
<text font-size="9.2" text-anchor="middle" textLength="5" lengthAdjust="spacingAndGlyphs" transform="translate(636.5 456.5) rotate(-90)" x="0" y="3.31">5</text>
<text font-size="9.2" text-anchor="middle" textLength="14.5" lengthAdjust="spacingAndGlyphs" x="628.3" y="497.31">⌀71</text>
<text font-size="8.5" text-anchor="middle" textLength="14" lengthAdjust="spacingAndGlyphs" x="544" y="499.86">G1/2</text>
<text font-size="8.5" text-anchor="middle" textLength="14" lengthAdjust="spacingAndGlyphs" x="569" y="499.86">G1/2</text>
<text font-size="9.2" text-anchor="middle" textLength="10" lengthAdjust="spacingAndGlyphs" x="548" y="510.61">88</text>
<text font-size="9.2" text-anchor="middle" textLength="11" lengthAdjust="spacingAndGlyphs" x="490" y="520.31">74</text>
<text font-size="9.2" text-anchor="middle" textLength="11" lengthAdjust="spacingAndGlyphs" x="536" y="520.31">74</text>
<text font-size="9.2" text-anchor="middle" textLength="11" lengthAdjust="spacingAndGlyphs" x="583" y="520.31">74</text>
<text font-size="9" text-anchor="middle" textLength="20" lengthAdjust="spacingAndGlyphs" transform="translate(455.5 406.5) rotate(36)" x="0" y="3.2">⌀268</text>
<line x1="445.7" y1="403.5" x2="464.5" y2="417"/>
<path d="M93.9 589.3 L273.4 589.3 L274.6 591.1 L272.5 593 L93.9 593 Z" stroke-width="1.2"/>
<line x1="64.1" y1="589.3" x2="93.9" y2="589.3"/>
<line x1="85.7" y1="593.4" x2="93.9" y2="593.4" stroke-width="0.8"/>
<line x1="83.6" y1="585" x2="83.6" y2="601.4"/>
<line x1="64.1" y1="589.3" x2="64.1" y2="647.3"/>
<line x1="73.4" y1="589.3" x2="73.4" y2="638.4"/>
<line x1="64.1" y1="647.3" x2="124.5" y2="647.3"/>
<line x1="73.4" y1="638.4" x2="124.5" y2="638.4"/>
<line x1="120.2" y1="593" x2="120.2" y2="660"/>
<line x1="137.5" y1="593" x2="137.5" y2="631"/>
<rect x="124.5" y="631" width="14.8" height="14.8" stroke-width="1.3" fill="#fff"/>
<line x1="132" y1="627" x2="132" y2="649" stroke-dasharray="3 1.2 1 1.2"/>
<line x1="121" y1="638.4" x2="142" y2="638.4" stroke-dasharray="3 1.2 1 1.2"/>
<line x1="137.5" y1="646" x2="137.5" y2="660"/>
<line x1="120.2" y1="658.8" x2="137.5" y2="658.8"/>
<rect x="122.7" y="570.6" width="12.6" height="6" stroke-width="1.7" rx="1.5"/>
<rect x="121.3" y="577.2" width="15.2" height="10.6" stroke-width="1.3" rx="1"/>
<line x1="121.3" y1="577.6" x2="136.5" y2="577.6" stroke-width="1.8"/>
<line x1="121.3" y1="587.6" x2="136.5" y2="587.6" stroke-width="1.8"/>
<rect x="154.3" y="542" width="4" height="45.5" stroke-width="1.4"/>
<rect x="155.20000000000002" y="543.5" width="2.2" height="3.2" stroke-width="0.9"/>
<rect x="155.20000000000002" y="548.3" width="2.2" height="3.2" stroke-width="0.9"/>
<rect x="209.5" y="542" width="4" height="45.5" stroke-width="1.4"/>
<rect x="210.4" y="543.5" width="2.2" height="3.2" stroke-width="0.9"/>
<rect x="210.4" y="548.3" width="2.2" height="3.2" stroke-width="0.9"/>
<rect x="168.8" y="581.9" width="29.9" height="4.2" stroke-width="1.3" rx="1"/>
<line x1="171.3" y1="586" x2="171.3" y2="589"/>
<line x1="196.3" y1="586" x2="196.3" y2="589"/>
<circle cx="183.9" cy="580.9" r="0.9" stroke-width="0.5" fill="#222"/>
<line x1="171.6" y1="593" x2="171.6" y2="621.8"/>
<line x1="195.8" y1="593" x2="195.8" y2="621.8"/>
<rect x="168.8" y="623.3" width="29.7" height="24.1" stroke-width="1.2"/>
<line x1="183.7" y1="578" x2="183.7" y2="650" stroke-dasharray="4 1.5 1 1.5"/>
<line x1="171.6" y1="605" x2="224" y2="605"/>
<line x1="195.8" y1="621.8" x2="171.6" y2="621.8"/>
<line x1="198.5" y1="623.3" x2="210" y2="623.3"/>
<line x1="198.5" y1="647.4" x2="210" y2="647.4"/>
<line x1="207.3" y1="623.3" x2="207.3" y2="647.4"/>
<line x1="168.8" y1="647.4" x2="168.8" y2="661"/>
<line x1="198.5" y1="647.4" x2="198.5" y2="661"/>
<line x1="168.8" y1="659" x2="198.5" y2="659"/>
<rect x="223.4" y="581.9" width="30.4" height="4.2" stroke-width="1.3" rx="1"/>
<line x1="225.8" y1="586" x2="225.8" y2="589"/>
<line x1="251.4" y1="586" x2="251.4" y2="589"/>
<circle cx="238.7" cy="580.9" r="0.9" stroke-width="0.5" fill="#222"/>
<line x1="224.2" y1="593" x2="224.2" y2="621.8"/>
<line x1="253.9" y1="593" x2="253.9" y2="621.8"/>
<rect x="224.2" y="621.8" width="29.7" height="25.1" stroke-width="1.3"/>
<line x1="238.7" y1="578" x2="238.7" y2="648" stroke-dasharray="4 1.5 1 1.5"/>
<circle cx="238.7" cy="640.5" r="1.8" stroke-width="1.1"/>
<rect x="237.2" y="625.5" width="3" height="5" stroke-width="0.4" fill="#222"/>
<line x1="224.2" y1="605" x2="282" y2="605"/>
<line x1="224.2" y1="646.9" x2="224.2" y2="661"/>
<line x1="253.9" y1="646.9" x2="253.9" y2="661"/>
<line x1="224.2" y1="658" x2="253.9" y2="658"/>
<line x1="253.9" y1="646.9" x2="293.9" y2="646.9"/>
<line x1="274.6" y1="589.3" x2="296" y2="589.3"/>
<line x1="293" y1="584.6" x2="293" y2="651.5"/>
<line x1="164.7" y1="590" x2="164.7" y2="647.4"/>
<line x1="137.5" y1="647.4" x2="168.8" y2="647.4" stroke-width="0.8"/>
<text font-size="9.9" text-anchor="middle" textLength="5" lengthAdjust="spacingAndGlyphs" transform="translate(77.8 598) rotate(-90)" x="0" y="3.56">7</text>
<text font-size="9.9" text-anchor="middle" textLength="21" lengthAdjust="spacingAndGlyphs" transform="translate(59.5 618.5) rotate(-90)" x="0" y="3.56">95,5</text>
<text font-size="9.9" text-anchor="middle" textLength="20.5" lengthAdjust="spacingAndGlyphs" transform="translate(69.8 613.7) rotate(-90)" x="0" y="3.56">80,5</text>
<text font-size="9.9" text-anchor="middle" textLength="19" lengthAdjust="spacingAndGlyphs" x="149.5" y="657.56"><tspan style="font-size:0.7em">□</tspan>28</text>
<text font-size="9" text-anchor="middle" textLength="56" lengthAdjust="spacingAndGlyphs" transform="translate(160.8 617.5) rotate(-90)" x="0" y="3.24">Min.50-Max.95</text>
<text font-size="9.9" text-anchor="middle" textLength="26" lengthAdjust="spacingAndGlyphs" x="210" y="603.96">⌀40,7</text>
<text font-size="9.9" text-anchor="middle" textLength="27.8" lengthAdjust="spacingAndGlyphs" x="268" y="603.96">⌀47,8</text>
<text font-size="9.9" text-anchor="middle" textLength="10" lengthAdjust="spacingAndGlyphs" transform="translate(203.2 634.8) rotate(-90)" x="0" y="3.56">40</text>
<text font-size="9.9" text-anchor="middle" textLength="18" lengthAdjust="spacingAndGlyphs" x="184" y="656.86"><tspan style="font-size:0.7em">□</tspan>48</text>
<text font-size="9.9" text-anchor="middle" textLength="18.6" lengthAdjust="spacingAndGlyphs" x="239" y="656.16"><tspan style="font-size:0.7em">□</tspan>48</text>
<text font-size="9" text-anchor="middle" textLength="56" lengthAdjust="spacingAndGlyphs" transform="translate(290 617) rotate(-90)" x="0" y="3.24">Min.54-Max.94</text>
<line x1="445.5" y1="562.7" x2="621" y2="562.7"/>
<line x1="445.5" y1="562.7" x2="445.5" y2="583.3"/>
<line x1="621" y1="562.7" x2="621" y2="579"/>
<line x1="455.3" y1="572.2" x2="610.7" y2="572.2"/>
<line x1="455.3" y1="572.2" x2="455.3" y2="672"/>
<line x1="610.7" y1="572.2" x2="610.7" y2="672"/>
<line x1="528.3" y1="572.2" x2="528.3" y2="582"/>
<line x1="421.9" y1="579" x2="621" y2="579"/>
<rect x="445.5" y="579.6" width="17.5" height="4.6" stroke-width="1.2"/>
<line x1="451.3" y1="579.6" x2="451.3" y2="584.2"/>
<line x1="457.2" y1="579.6" x2="457.2" y2="584.2"/>
<rect x="603" y="579.6" width="17.5" height="4.6" stroke-width="1.2"/>
<line x1="608.8" y1="579.6" x2="608.8" y2="584.2"/>
<line x1="614.7" y1="579.6" x2="614.7" y2="584.2"/>
<line x1="455.3" y1="591" x2="631" y2="591"/>
<circle cx="528.5" cy="591.4" r="9.6" stroke-width="2" fill="#fff"/>
<rect x="525.5" y="585.5" width="5.6" height="3.5" stroke-width="0.4" fill="#333"/>
<rect x="525.5" y="592.5" width="5.6" height="3.5" stroke-width="0.4" fill="#555"/>
<line x1="460" y1="584.2" x2="460" y2="602.2"/>
<line x1="606.3" y1="584.2" x2="606.3" y2="607.3"/>
<rect x="610.8" y="584.5" width="4.2" height="16" stroke-width="0.8" fill="#222"/>
<rect x="611.9" y="585.6" width="2" height="2" fill="#fff" stroke="none"/>
<rect x="611.9" y="589.4" width="2" height="2" fill="#fff" stroke="none"/>
<rect x="611.9" y="593.2" width="2" height="2" fill="#fff" stroke="none"/>
<rect x="611.9" y="597.0" width="2" height="2" fill="#fff" stroke="none"/>
<line x1="438.5" y1="607.3" x2="608" y2="607.3"/>
<line x1="438.5" y1="579" x2="438.5" y2="607.3"/>
<line x1="422.2" y1="579" x2="422.2" y2="650.2"/>
<path d="M458.2 607.3 L458.2 603.5 Q458.2 602 459.7 602 L465.0 602 Q466.5 602 466.5 603.5 L466.5 607.3" stroke-width="1.2"/>
<path d="M505 607.3 L505 603.5 Q505 602 506.5 602 L511.8 602 Q513.3 602 513.3 603.5 L513.3 607.3" stroke-width="1.2"/>
<path d="M552.3 607.3 L552.3 603.5 Q552.3 602 553.8 602 L559.0999999999999 602 Q560.5999999999999 602 560.5999999999999 603.5 L560.5999999999999 607.3" stroke-width="1.2"/>
<path d="M599.5 607.3 L599.5 603.5 Q599.5 602 601.0 602 L606.3 602 Q607.8 602 607.8 603.5 L607.8 607.3" stroke-width="1.2"/>
<rect x="460.5" y="607.7" width="21.5" height="42" stroke-width="1.1"/>
<line x1="460.5" y1="616.6" x2="482" y2="616.6" stroke-width="1.5"/>
<line x1="460.5" y1="619.7" x2="482" y2="619.7" stroke-width="1.5"/>
<line x1="460.5" y1="622.8000000000001" x2="482" y2="622.8000000000001" stroke-width="1.5"/>
<line x1="460.5" y1="625.9" x2="482" y2="625.9" stroke-width="1.5"/>
<line x1="460.5" y1="629.0" x2="482" y2="629.0" stroke-width="1.5"/>
<line x1="460.5" y1="632.1" x2="482" y2="632.1" stroke-width="1.5"/>
<line x1="460.5" y1="635.2" x2="482" y2="635.2" stroke-width="1.5"/>
<line x1="471.2" y1="615.5" x2="471.2" y2="648.5" stroke-width="1.5"/>
<line x1="460.5" y1="648.8" x2="482" y2="648.8" stroke-width="2" stroke="#777"/>
<line x1="422.2" y1="650.2" x2="460.5" y2="650.2"/>
<line x1="461.3" y1="650" x2="461.3" y2="662"/>
<line x1="481" y1="650" x2="481" y2="662"/>
<line x1="461.3" y1="660.5" x2="481" y2="660.5"/>
<rect x="509.4" y="607.4" width="38.200000000000045" height="43.3" stroke-width="1.6"/>
<line x1="517.1" y1="607.4" x2="517.1" y2="650.7" stroke-width="1.5"/>
<line x1="539.8000000000001" y1="607.4" x2="539.8000000000001" y2="650.7" stroke-width="1.5"/>
<line x1="510.9" y1="607.4" x2="510.9" y2="650.7" stroke-width="0.7"/>
<line x1="546.1" y1="607.4" x2="546.1" y2="650.7" stroke-width="0.7"/>
<line x1="509.4" y1="616.9" x2="547.6" y2="616.9" stroke-width="1.4"/>
<line x1="509.4" y1="619.88" x2="547.6" y2="619.88" stroke-width="1.4"/>
<line x1="509.4" y1="622.86" x2="547.6" y2="622.86" stroke-width="1.4"/>
<line x1="509.4" y1="625.84" x2="547.6" y2="625.84" stroke-width="1.4"/>
<line x1="509.4" y1="628.8199999999999" x2="547.6" y2="628.8199999999999" stroke-width="1.4"/>
<line x1="509.4" y1="631.8" x2="547.6" y2="631.8" stroke-width="1.4"/>
<line x1="509.4" y1="634.78" x2="547.6" y2="634.78" stroke-width="1.4"/>
<text font-size="4.2" x="518.9" y="616.2" style="font-weight:bold;stroke:#222;stroke-width:0.3" textLength="20" lengthAdjust="spacingAndGlyphs">v MIN =</text>
<text font-size="4.2" x="518.9" y="638.6" style="font-weight:bold;stroke:#222;stroke-width:0.3" textLength="20" lengthAdjust="spacingAndGlyphs">oooooo</text>
<line x1="509.4" y1="649.7" x2="547.6" y2="649.7" stroke-width="2" stroke="#555"/>
<rect x="566" y="607.4" width="39.299999999999955" height="43.3" stroke-width="1.6"/>
<line x1="573.7" y1="607.4" x2="573.7" y2="650.7" stroke-width="1.5"/>
<line x1="597.5" y1="607.4" x2="597.5" y2="650.7" stroke-width="1.5"/>
<line x1="567.5" y1="607.4" x2="567.5" y2="650.7" stroke-width="0.7"/>
<line x1="603.8" y1="607.4" x2="603.8" y2="650.7" stroke-width="0.7"/>
<line x1="566" y1="616.9" x2="605.3" y2="616.9" stroke-width="1.4"/>
<line x1="566" y1="619.88" x2="605.3" y2="619.88" stroke-width="1.4"/>
<line x1="566" y1="622.86" x2="605.3" y2="622.86" stroke-width="1.4"/>
<line x1="566" y1="625.84" x2="605.3" y2="625.84" stroke-width="1.4"/>
<line x1="566" y1="628.8199999999999" x2="605.3" y2="628.8199999999999" stroke-width="1.4"/>
<line x1="566" y1="631.8" x2="605.3" y2="631.8" stroke-width="1.4"/>
<line x1="566" y1="634.78" x2="605.3" y2="634.78" stroke-width="1.4"/>
<text font-size="4.2" x="575.5" y="616.2" style="font-weight:bold;stroke:#222;stroke-width:0.3" textLength="20" lengthAdjust="spacingAndGlyphs">v MIN =</text>
<text font-size="4.2" x="575.5" y="638.6" style="font-weight:bold;stroke:#222;stroke-width:0.3" textLength="20" lengthAdjust="spacingAndGlyphs">oooooo</text>
<line x1="566" y1="649.7" x2="605.3" y2="649.7" stroke-width="2" stroke="#555"/>
<line x1="605.5" y1="617.1" x2="639.3" y2="617.1" stroke="#c0507a"/>
<line x1="605.5" y1="636.5" x2="656.4" y2="636.5"/>
<line x1="621" y1="579" x2="657" y2="579" stroke="#e05aa0"/>
<line x1="631.4" y1="579" x2="631.4" y2="591.4"/>
<line x1="639.3" y1="579" x2="639.3" y2="617"/>
<line x1="656.4" y1="579" x2="656.4" y2="636.7"/>
<line x1="455.3" y1="671.5" x2="610.7" y2="671.5"/>
<text font-size="9.2" text-anchor="middle" textLength="15.5" lengthAdjust="spacingAndGlyphs" x="538" y="562.81">276</text>
<text font-size="9.2" text-anchor="middle" textLength="15" lengthAdjust="spacingAndGlyphs" x="496.5" y="572.31">115</text>
<text font-size="9.2" text-anchor="middle" textLength="14.5" lengthAdjust="spacingAndGlyphs" x="574" y="572.31">130</text>
<text font-size="9.2" text-anchor="middle" textLength="15.5" lengthAdjust="spacingAndGlyphs" x="538" y="670.81">245</text>
<text font-size="9.2" text-anchor="middle" textLength="24" lengthAdjust="spacingAndGlyphs" x="475" y="661.11">⌀32,6</text>
<text font-size="9.2" text-anchor="middle" textLength="10" lengthAdjust="spacingAndGlyphs" transform="translate(433.8 593.6) rotate(-90)" x="0" y="3.31">45</text>
<text font-size="9.2" text-anchor="middle" textLength="26" lengthAdjust="spacingAndGlyphs" transform="translate(418.6 603.5) rotate(-90)" x="0" y="3.31">112,5</text>
<text font-size="9.2" text-anchor="middle" textLength="9" lengthAdjust="spacingAndGlyphs" transform="translate(627.8 585.3) rotate(-90)" x="0" y="3.31">20</text>
<text font-size="9.2" text-anchor="middle" textLength="8.5" lengthAdjust="spacingAndGlyphs" style="fill:#e0509a;stroke:#e0509a" transform="translate(635.4 602.5) rotate(-90)" x="0" y="3.31">60</text>
<text font-size="9.2" text-anchor="middle" textLength="40" lengthAdjust="spacingAndGlyphs" style="fill:#e0509a;stroke:#e0509a" transform="translate(644.2 594) rotate(-90)" x="0" y="3.31">MINIMUM</text>
<text font-size="9.2" text-anchor="middle" textLength="9" lengthAdjust="spacingAndGlyphs" transform="translate(653.3 604) rotate(-90)" x="0" y="3.31">90</text>
<text font-size="9.2" text-anchor="middle" textLength="44" lengthAdjust="spacingAndGlyphs" transform="translate(661.2 595) rotate(-90)" x="0" y="3.31">MAXIMUM</text>
<polygon points="76.00,30.20 79.20,29.25 79.20,31.15" fill="#222" stroke="none"/>
<polygon points="293.20,30.20 290.00,29.25 290.00,31.15" fill="#222" stroke="none"/>
<polygon points="76.00,123.70 79.20,122.75 79.20,124.65" fill="#222" stroke="none"/>
<polygon points="286.60,123.70 283.40,122.75 283.40,124.65" fill="#222" stroke="none"/>
<polygon points="51.00,45.90 50.05,49.10 51.95,49.10" fill="#222" stroke="none"/>
<polygon points="51.00,73.60 50.05,70.40 51.95,70.40" fill="#222" stroke="none"/>
<polygon points="303.10,60.00 302.15,63.20 304.05,63.20" fill="#222" stroke="none"/>
<polygon points="303.10,96.40 302.15,93.20 304.05,93.20" fill="#222" stroke="none"/>
<polygon points="312.10,53.50 311.15,56.70 313.05,56.70" fill="#222" stroke="none"/>
<polygon points="312.10,96.40 311.15,93.20 313.05,93.20" fill="#222" stroke="none"/>
<polygon points="60.60,53.50 59.65,50.30 61.55,50.30" fill="#222" stroke="none"/>
<polygon points="60.60,65.50 59.65,68.70 61.55,68.70" fill="#222" stroke="none"/>
<polygon points="97.50,53.50 96.55,50.30 98.45,50.30" fill="#222" stroke="none"/>
<polygon points="97.50,65.50 96.55,68.70 98.45,68.70" fill="#222" stroke="none"/>
<polygon points="280.30,110.80 283.50,109.85 283.50,111.75" fill="#222" stroke="none"/>
<polygon points="293.20,110.80 290.00,109.85 290.00,111.75" fill="#222" stroke="none"/>
<polygon points="66.80,97.00 63.60,96.05 63.60,97.95" fill="#222" stroke="none"/>
<polygon points="76.00,97.00 79.20,96.05 79.20,97.95" fill="#222" stroke="none"/>
<polygon points="76.00,97.00 72.80,96.05 72.80,97.95" fill="#222" stroke="none"/>
<polygon points="83.50,97.00 86.70,96.05 86.70,97.95" fill="#222" stroke="none"/>
<polygon points="314.30,166.70 313.35,169.90 315.25,169.90" fill="#222" stroke="none"/>
<polygon points="314.30,199.30 313.35,196.10 315.25,196.10" fill="#222" stroke="none"/>
<polygon points="150.30,177.80 149.35,181.00 151.25,181.00" fill="#222" stroke="none"/>
<polygon points="150.30,190.80 149.35,187.60 151.25,187.60" fill="#222" stroke="none"/>
<polygon points="150.30,199.60 149.35,202.80 151.25,202.80" fill="#222" stroke="none"/>
<polygon points="217.50,185.10 220.70,184.15 220.70,186.05" fill="#222" stroke="none"/>
<polygon points="242.10,185.10 238.90,184.15 238.90,186.05" fill="#222" stroke="none"/>
<polygon points="418.30,15.30 421.50,14.35 421.50,16.25" fill="#222" stroke="none"/>
<polygon points="569.30,15.30 566.10,14.35 566.10,16.25" fill="#222" stroke="none"/>
<polygon points="408.10,46.00 407.15,49.20 409.05,49.20" fill="#222" stroke="none"/>
<polygon points="408.10,160.00 407.15,156.80 409.05,156.80" fill="#222" stroke="none"/>
<polygon points="436.70,187.40 439.90,186.45 439.90,188.35" fill="#222" stroke="none"/>
<polygon points="551.00,187.40 547.80,186.45 547.80,188.35" fill="#222" stroke="none"/>
<polygon points="64.60,354.50 63.65,357.70 65.55,357.70" fill="#222" stroke="none"/>
<polygon points="64.60,498.90 63.65,495.70 65.55,495.70" fill="#222" stroke="none"/>
<polygon points="76.60,354.50 75.65,357.70 77.55,357.70" fill="#222" stroke="none"/>
<polygon points="76.60,470.60 75.65,467.40 77.55,467.40" fill="#222" stroke="none"/>
<polygon points="89.10,354.50 88.15,357.70 90.05,357.70" fill="#222" stroke="none"/>
<polygon points="89.10,461.20 88.15,458.00 90.05,458.00" fill="#222" stroke="none"/>
<polygon points="124.30,392.20 127.50,391.25 127.50,393.15" fill="#222" stroke="none"/>
<polygon points="138.90,392.20 135.70,391.25 135.70,393.15" fill="#222" stroke="none"/>
<polygon points="93.80,428.90 97.00,427.95 97.00,429.85" fill="#222" stroke="none"/>
<polygon points="129.00,428.90 125.80,427.95 125.80,429.85" fill="#222" stroke="none"/>
<polygon points="129.00,428.90 132.20,427.95 132.20,429.85" fill="#222" stroke="none"/>
<polygon points="183.80,428.90 180.60,427.95 180.60,429.85" fill="#222" stroke="none"/>
<polygon points="183.80,428.90 187.00,427.95 187.00,429.85" fill="#222" stroke="none"/>
<polygon points="238.80,428.90 235.60,427.95 235.60,429.85" fill="#222" stroke="none"/>
<polygon points="238.80,428.90 242.00,427.95 242.00,429.85" fill="#222" stroke="none"/>
<polygon points="273.60,428.90 270.40,427.95 270.40,429.85" fill="#222" stroke="none"/>
<polygon points="285.60,441.60 284.65,444.80 286.55,444.80" fill="#222" stroke="none"/>
<polygon points="285.60,498.90 284.65,495.70 286.55,495.70" fill="#222" stroke="none"/>
<polygon points="93.80,533.20 97.00,532.25 97.00,534.15" fill="#222" stroke="none"/>
<polygon points="273.60,533.20 270.40,532.25 270.40,534.15" fill="#222" stroke="none"/>
<polygon points="330.00,436.40 329.05,439.60 330.95,439.60" fill="#222" stroke="none"/>
<polygon points="330.00,495.90 329.05,492.70 330.95,492.70" fill="#222" stroke="none"/>
<polygon points="471.00,421.00 474.20,420.05 474.20,421.95" fill="#222" stroke="none"/>
<polygon points="528.00,421.00 524.80,420.05 524.80,421.95" fill="#222" stroke="none"/>
<polygon points="528.00,421.00 531.20,420.05 531.20,421.95" fill="#222" stroke="none"/>
<polygon points="585.70,421.00 582.50,420.05 582.50,421.95" fill="#222" stroke="none"/>
<polygon points="429.70,439.50 428.75,442.70 430.65,442.70" fill="#222" stroke="none"/>
<polygon points="429.70,492.50 428.75,489.30 430.65,489.30" fill="#222" stroke="none"/>
<polygon points="437.50,445.00 436.55,448.20 438.45,448.20" fill="#222" stroke="none"/>
<polygon points="437.50,486.50 436.55,483.30 438.45,483.30" fill="#222" stroke="none"/>
<polygon points="566.00,431.60 569.20,430.65 569.20,432.55" fill="#222" stroke="none"/>
<polygon points="604.60,431.60 601.40,430.65 601.40,432.55" fill="#222" stroke="none"/>
<polygon points="461.40,522.30 464.60,521.35 464.60,523.25" fill="#222" stroke="none"/>
<polygon points="509.50,522.30 506.30,521.35 506.30,523.25" fill="#222" stroke="none"/>
<polygon points="509.50,522.30 512.70,521.35 512.70,523.25" fill="#222" stroke="none"/>
<polygon points="556.60,522.30 553.40,521.35 553.40,523.25" fill="#222" stroke="none"/>
<polygon points="556.60,522.30 559.80,521.35 559.80,523.25" fill="#222" stroke="none"/>
<polygon points="603.70,522.30 600.50,521.35 600.50,523.25" fill="#222" stroke="none"/>
<polygon points="528.00,511.00 531.20,510.05 531.20,511.95" fill="#222" stroke="none"/>
<polygon points="586.00,511.00 582.80,510.05 582.80,511.95" fill="#222" stroke="none"/>
<polygon points="521.50,430.20 524.70,429.25 524.70,431.15" fill="#222" stroke="none"/>
<polygon points="535.00,430.20 531.80,429.25 531.80,431.15" fill="#222" stroke="none"/>
<polygon points="64.10,589.30 63.15,592.50 65.05,592.50" fill="#222" stroke="none"/>
<polygon points="64.10,647.30 63.15,644.10 65.05,644.10" fill="#222" stroke="none"/>
<polygon points="73.40,589.30 72.45,592.50 74.35,592.50" fill="#222" stroke="none"/>
<polygon points="73.40,638.40 72.45,635.20 74.35,635.20" fill="#222" stroke="none"/>
<polygon points="164.70,590.00 163.75,593.20 165.65,593.20" fill="#222" stroke="none"/>
<polygon points="164.70,647.40 163.75,644.20 165.65,644.20" fill="#222" stroke="none"/>
<polygon points="293.00,589.30 292.05,592.50 293.95,592.50" fill="#222" stroke="none"/>
<polygon points="293.00,646.90 292.05,643.70 293.95,643.70" fill="#222" stroke="none"/>
<polygon points="207.30,623.30 206.35,626.50 208.25,626.50" fill="#222" stroke="none"/>
<polygon points="207.30,647.40 206.35,644.20 208.25,644.20" fill="#222" stroke="none"/>
<polygon points="120.20,658.80 123.40,657.85 123.40,659.75" fill="#222" stroke="none"/>
<polygon points="137.50,658.80 134.30,657.85 134.30,659.75" fill="#222" stroke="none"/>
<polygon points="168.80,659.00 172.00,658.05 172.00,659.95" fill="#222" stroke="none"/>
<polygon points="198.50,659.00 195.30,658.05 195.30,659.95" fill="#222" stroke="none"/>
<polygon points="224.20,658.00 227.40,657.05 227.40,658.95" fill="#222" stroke="none"/>
<polygon points="253.90,658.00 250.70,657.05 250.70,658.95" fill="#222" stroke="none"/>
<polygon points="171.60,605.00 174.80,604.05 174.80,605.95" fill="#222" stroke="none"/>
<polygon points="195.80,605.00 192.60,604.05 192.60,605.95" fill="#222" stroke="none"/>
<polygon points="224.20,605.00 227.40,604.05 227.40,605.95" fill="#222" stroke="none"/>
<polygon points="253.90,605.00 250.70,604.05 250.70,605.95" fill="#222" stroke="none"/>
<polygon points="83.60,589.30 82.65,586.10 84.55,586.10" fill="#222" stroke="none"/>
<polygon points="83.60,593.20 82.65,596.40 84.55,596.40" fill="#222" stroke="none"/>
<polygon points="445.50,562.70 448.70,561.75 448.70,563.65" fill="#222" stroke="none"/>
<polygon points="621.00,562.70 617.80,561.75 617.80,563.65" fill="#222" stroke="none"/>
<polygon points="455.30,572.20 458.50,571.25 458.50,573.15" fill="#222" stroke="none"/>
<polygon points="528.30,572.20 525.10,571.25 525.10,573.15" fill="#222" stroke="none"/>
<polygon points="528.30,572.20 531.50,571.25 531.50,573.15" fill="#222" stroke="none"/>
<polygon points="610.70,572.20 607.50,571.25 607.50,573.15" fill="#222" stroke="none"/>
<polygon points="438.50,579.00 437.55,582.20 439.45,582.20" fill="#222" stroke="none"/>
<polygon points="438.50,607.30 437.55,604.10 439.45,604.10" fill="#222" stroke="none"/>
<polygon points="422.20,579.00 421.25,582.20 423.15,582.20" fill="#222" stroke="none"/>
<polygon points="422.20,650.20 421.25,647.00 423.15,647.00" fill="#222" stroke="none"/>
<polygon points="455.30,671.50 458.50,670.55 458.50,672.45" fill="#222" stroke="none"/>
<polygon points="610.70,671.50 607.50,670.55 607.50,672.45" fill="#222" stroke="none"/>
<polygon points="631.40,579.00 630.45,582.20 632.35,582.20" fill="#222" stroke="none"/>
<polygon points="631.40,591.40 630.45,588.20 632.35,588.20" fill="#222" stroke="none"/>
<polygon points="639.30,579.00 638.35,582.20 640.25,582.20" fill="#222" stroke="none"/>
<polygon points="639.30,617.00 638.35,613.80 640.25,613.80" fill="#222" stroke="none"/>
<polygon points="656.40,579.00 655.45,582.20 657.35,582.20" fill="#222" stroke="none"/>
<polygon points="656.40,636.50 655.45,633.30 657.35,633.30" fill="#222" stroke="none"/>
<polygon points="461.30,660.50 464.50,659.55 464.50,661.45" fill="#222" stroke="none"/>
<polygon points="481.00,660.50 477.80,659.55 477.80,661.45" fill="#222" stroke="none"/>
</g></svg></body></html>
